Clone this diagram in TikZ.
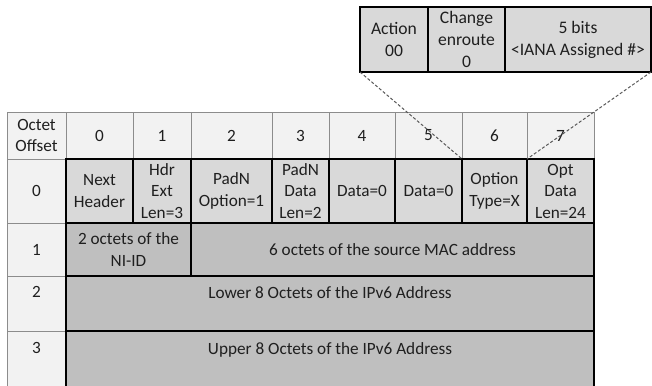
\documentclass[tikz,border=0pt]{standalone}
\usepackage{fontspec}
\setmainfont{Carlito}
\definecolor{hdrfill}{HTML}{F2F2F2}
\definecolor{lightfill}{HTML}{D9D9D9}
\definecolor{darkfill}{HTML}{BFBFBF}
\definecolor{thinline}{HTML}{8C8C8C}
\definecolor{txt}{HTML}{1F1F1F}
\definecolor{dashcol}{HTML}{595959}
\newcommand\mycell[7]{%
  \pgfmathsetmacro\cx{(#3+#5)/2}\pgfmathsetmacro\cy{(#4+#6)/2}%
  \pgfmathsetmacro\cw{#5-#3}\pgfmathsetmacro\ch{#6-#4}%
  \node[#1, minimum width=\cw pt, minimum height=\ch pt] (#2) at (\cx,\cy) {#7};}
\tikzset{
  base/.style={rectangle, inner sep=0pt, outer sep=0pt, align=center, text=txt,
    font=\fontsize{17.2}{21.5}\selectfont},
  hdrcell/.style={base, fill=hdrfill, draw=thinline, line width=1pt},
  lightcell/.style={base, fill=lightfill, draw=black, line width=1.8pt},
  darkcell/.style={base, fill=darkfill, draw=black, line width=1.8pt},
  topcell/.style={lightcell, font=\fontsize{17.6}{22}\selectfont},
  zoomline/.style={draw=dashcol, line width=1pt, dash pattern=on 3pt off 2pt}
}
\begin{document}
\begin{tikzpicture}[x=1pt,y=-1pt]
\useasboundingbox (0,0) rectangle (652,385);
% header row
\mycell{hdrcell}{hoff}{7}{112}{66}{159}{Octet\\Offset}
\mycell{hdrcell}{h0}{66}{112}{133}{159}{0}
\mycell{hdrcell}{h1}{133}{112}{191}{159}{1}
\mycell{hdrcell}{h2}{191}{112}{272}{159}{2}
\mycell{hdrcell}{h3}{272}{112}{329}{159}{3}
\mycell{hdrcell}{h4}{329}{112}{395}{159}{4}
\mycell{hdrcell}{h5}{395}{112}{462}{159}{5}
\mycell{hdrcell}{h6}{462}{112}{527}{159}{6}
\mycell{hdrcell}{h7}{527}{112}{594}{159}{7}
% offset column
\mycell{hdrcell}{o0}{7}{159}{66}{223}{0}
\mycell{hdrcell}{o1}{7}{223}{66}{276}{1}
\mycell{hdrcell}{o2}{7}{276}{66}{331}{2\\[-5pt]\strut}
\mycell{hdrcell}{o3}{7}{331}{66}{388}{3\\[-5pt]\strut}
% row 0
\mycell{lightcell}{d0}{66}{159}{133}{223}{Next\\Header}
\mycell{lightcell}{d1}{133}{159}{191}{223}{Hdr\\Ext\\Len=3}
\mycell{lightcell}{d2}{191}{159}{272}{223}{PadN\\Option=1}
\mycell{lightcell}{d3}{272}{159}{329}{223}{PadN\\Data\\Len=2}
\mycell{lightcell}{d4}{329}{159}{395}{223}{Data=0}
\mycell{lightcell}{d5}{395}{159}{462}{223}{Data=0}
\mycell{lightcell}{d6}{462}{159}{527}{223}{Option\\Type=X}
\mycell{lightcell}{d7}{527}{159}{594}{223}{Opt\\Data\\Len=24}
% row 1
\mycell{darkcell}{niid}{66}{223}{191}{276}{2 octets of the\\NI-ID}
\mycell{darkcell}{mac}{191}{223}{594}{276}{6 octets of the source MAC address}
% rows 2, 3
\mycell{darkcell}{low}{66}{276}{594}{331}{Lower 8 Octets of the IPv6 Address\\[-5pt]\strut}
\mycell{darkcell}{up}{66}{331}{594}{388}{Upper 8 Octets of the IPv6 Address\\[-5pt]\strut}
% expanded option type box
\mycell{topcell}{act}{360}{7}{428}{72}{Action\\00}
\mycell{topcell}{chg}{428}{7}{505}{72}{Change\\enroute\\0}
\mycell{topcell}{iana}{505}{7}{651}{72}{5 bits\\<IANA Assigned \#>}
% zoom lines
\draw[zoomline] (act.south west) -- (d6.north west);
\draw[zoomline] (iana.south east) -- (d6.north east);
\end{tikzpicture}
\end{document}
